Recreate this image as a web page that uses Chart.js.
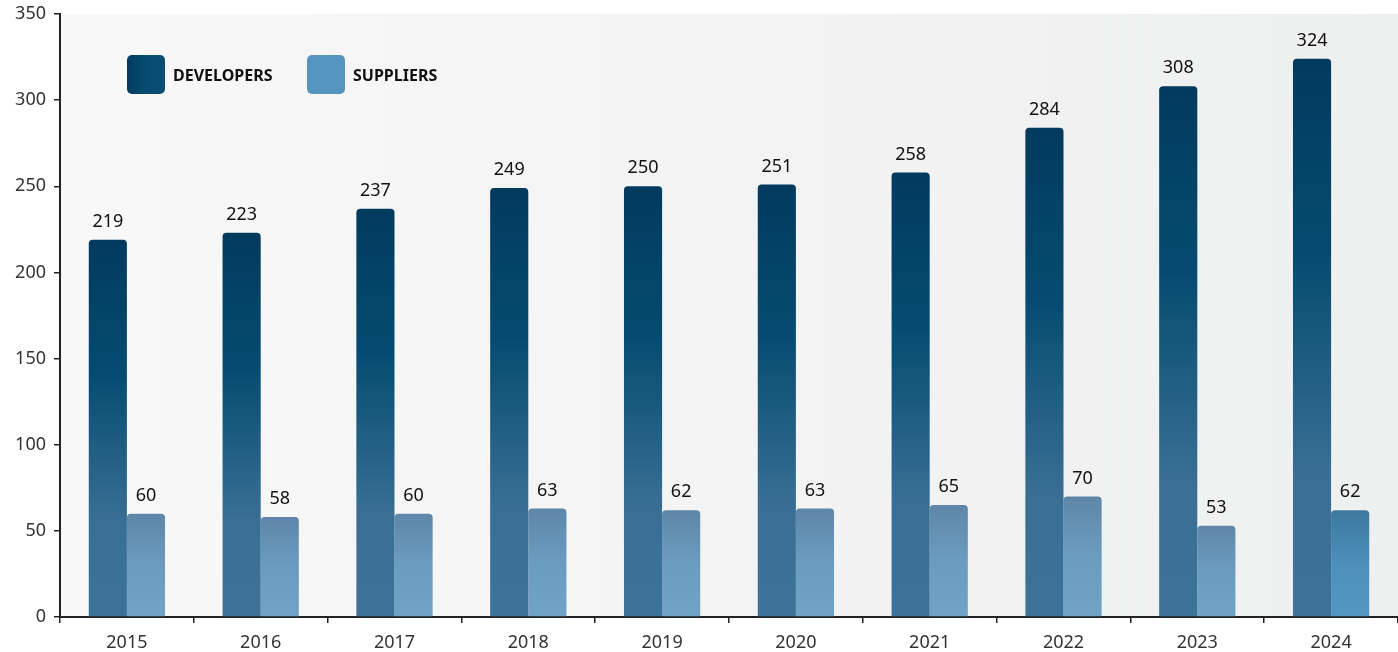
<!DOCTYPE html>
<html>
<head>
<meta charset="utf-8">
<script src="https://cdn.jsdelivr.net/npm/chart.js@4/dist/chart.umd.min.js"></script>
<style>
  html, body { margin: 0; padding: 0; background: #fff; }
  #wrap { width: 1398px; height: 652px; position: relative; }
</style>
</head>
<body>
<div id="wrap"><canvas id="chart"></canvas></div>
<script>
// datos
const years = ['2015', '2016', '2017', '2018', '2019', '2020', '2021', '2022', '2023', '2024'];
const developers = [219, 223, 237, 249, 250, 251, 258, 284, 308, 324];
const suppliers = [60, 58, 60, 63, 62, 63, 65, 70, 53, 62];
const yTicks = [0, 50, 100, 150, 200, 250, 300, 350];

const FONT = '"Noto Sans", "Open Sans", sans-serif';

// degradado vertical por barra
function barGradient(ctx, dark) {
  const chart = ctx.chart;
  const y = chart.scales.y;
  const fallback = dark ? '#0a4c73' : '#6a9cc0';
  if (!y || ctx.raw == null || !chart.chartArea) return fallback;
  const top = y.getPixelForValue(ctx.raw);
  const base = y.getPixelForValue(0);
  if (!Number.isFinite(top) || !Number.isFinite(base) || base - top < 1) return fallback;
  const c = chart.ctx;
  const g = c.createLinearGradient(0, top, 0, base);
  if (dark) {
    g.addColorStop(0, '#023a5e');
    g.addColorStop(0.35, '#054b71');
    g.addColorStop(0.75, '#3a6f95');
    g.addColorStop(1, '#3e7399');
  } else if (ctx.dataIndex === years.length - 1) {
    g.addColorStop(0, '#3d789f');
    g.addColorStop(0.5, '#4d8fba');
    g.addColorStop(1, '#5498c2');
  } else {
    g.addColorStop(0, '#5e86a8');
    g.addColorStop(0.5, '#6b9cc0');
    g.addColorStop(1, '#70a3c6');
  }
  return g;
}

// fondo del área de dibujo
const plotBackground = {
  id: 'plotBackground',
  beforeDraw(chart) {
    const { ctx, chartArea: a } = chart;
    const g = ctx.createLinearGradient(a.left, 0, a.right, 0);
    g.addColorStop(0, '#f8f8f8');
    g.addColorStop(1, '#eeefef');
    ctx.save();
    ctx.fillStyle = g;
    ctx.fillRect(a.left, a.top, a.right - a.left, a.bottom - a.top);
    ctx.restore();
  }
};

// etiquetas de valor
const valueLabels = {
  id: 'valueLabels',
  afterDatasetsDraw(chart) {
    const ctx = chart.ctx;
    ctx.save();
    ctx.font = '18px ' + FONT;
    ctx.fillStyle = '#111';
    ctx.textAlign = 'center';
    ctx.textBaseline = 'bottom';
    chart.data.datasets.forEach((ds, i) => {
      chart.getDatasetMeta(i).data.forEach((bar, j) => {
        ctx.fillText(ds.data[j], bar.x, bar.y - 9);
      });
    });
    ctx.restore();
  }
};

// leyenda dentro del gráfico
const innerLegend = {
  id: 'innerLegend',
  afterDraw(chart) {
    const ctx = chart.ctx;
    const items = [
      { text: chart.data.datasets[0].label, x: 127, dark: true },
      { text: chart.data.datasets[1].label, x: 307, dark: false }
    ];
    ctx.save();
    items.forEach(it => {
      let fill;
      if (it.dark) {
        fill = ctx.createLinearGradient(it.x, 0, it.x + 38, 0);
        fill.addColorStop(0, '#023a5e');
        fill.addColorStop(0.4, '#064a70');
        fill.addColorStop(1, '#0a4e75');
      } else {
        fill = '#5595c0';
      }
      ctx.fillStyle = fill;
      ctx.beginPath();
      ctx.roundRect(it.x, 55, 38, 39, 5);
      ctx.fill();
      ctx.fillStyle = '#111';
      ctx.font = 'bold 16px ' + FONT;
      ctx.textAlign = 'left';
      ctx.textBaseline = 'middle';
      ctx.fillText(it.text, it.x + 46, 76);
    });
    ctx.restore();
  }
};

new Chart(document.getElementById('chart'), {
  type: 'bar',
  data: {
    labels: years,
    datasets: [
      {
        label: 'DEVELOPERS',
        data: developers,
        backgroundColor: c => barGradient(c, true),
        borderRadius: { topLeft: 4, topRight: 4 },
        borderSkipped: 'bottom',
        categoryPercentage: 0.57,
        barPercentage: 1
      },
      {
        label: 'SUPPLIERS',
        data: suppliers,
        backgroundColor: c => barGradient(c, false),
        borderRadius: { topLeft: 4, topRight: 4 },
        borderSkipped: 'bottom',
        categoryPercentage: 0.57,
        barPercentage: 1
      }
    ]
  },
  options: {
    responsive: true,
    maintainAspectRatio: false,
    animation: false,
    layout: { padding: { top: 14, right: 0, left: 0, bottom: 0 } },
    plugins: {
      legend: { display: false },
      tooltip: { enabled: false }
    },
    scales: {
      x: {
        grid: {
          offset: true,
          drawOnChartArea: false,
          color: '#222',
          tickLength: 6,
          lineWidth: 1.5
        },
        border: { color: '#222', width: 2 },
        ticks: {
          color: '#333',
          font: { family: FONT, size: 18 },
          padding: 9
        },
        afterFit(scale) {
          scale.height = 35;
          scale.paddingLeft = 0;
          scale.paddingRight = 0;
        }
      },
      y: {
        min: 0,
        max: 350,
        afterBuildTicks(scale) {
          scale.ticks = yTicks.map(v => ({ value: v }));
        },
        grid: {
          drawOnChartArea: false,
          color: '#222',
          tickLength: 6,
          lineWidth: 1.5
        },
        border: { color: '#222', width: 2 },
        ticks: {
          color: '#333',
          font: { family: FONT, size: 18 },
          padding: 8
        },
        afterFit(scale) {
          scale.width = 60;
          scale.paddingTop = 0;
          scale.paddingBottom = 0;
        }
      }
    }
  },
  plugins: [plotBackground, valueLabels, innerLegend]
});
</script>
</body>
</html>
